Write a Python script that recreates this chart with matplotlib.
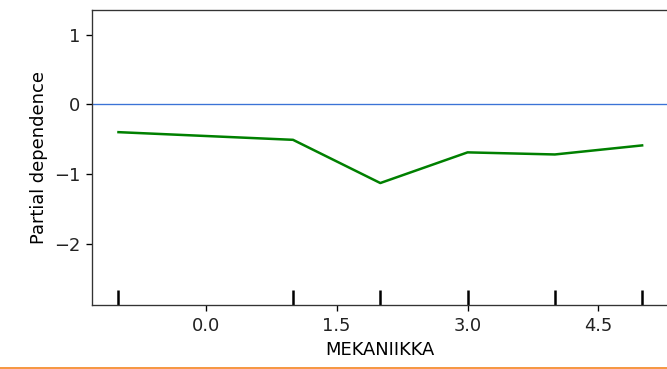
import matplotlib
matplotlib.use("Agg")
import matplotlib.pyplot as plt
from matplotlib.lines import Line2D
import matplotlib.transforms as mtransforms

# grade levels of the feature and the averaged model response
grid_values = [-1, 1, 2, 3, 4, 5]
partial_dependence = [-0.40, -0.51, -1.13, -0.69, -0.72, -0.59]
deciles = [-1, 1, 2, 3, 4, 5]
x_ticks = [0.0, 1.5, 3.0, 4.5]
y_ticks = [1, 0, -1, -2]
feature_name = "MEKANIIKKA"


def main() -> None:
    plt.rcParams["font.size"] = 10.7
    plt.rcParams["text.color"] = "#222222"
    plt.rcParams["xtick.labelcolor"] = "#222222"
    plt.rcParams["ytick.labelcolor"] = "#222222"

    dpi = 120
    fig = plt.figure(figsize=(667 / dpi, 369 / dpi), dpi=dpi)
    ax = fig.add_axes([92.3 / 667, 1 - 305 / 369, 576 / 667, 295.5 / 369])

    ax.plot(grid_values, partial_dependence, color="green", lw=1.5)
    ax.axhline(0, color="#3b73d6", lw=0.8)

    # decile rug along the bottom of the axes
    trans = mtransforms.blended_transform_factory(ax.transData, ax.transAxes)
    ax.vlines(deciles, 0, 0.05, transform=trans, color="k", lw=1.5)

    ax.set_xlim(-1.3, 5.3)
    ax.set_ylim(-2.88, 1.36)
    ax.set_xticks(x_ticks)
    ax.set_xticklabels([f"{v:.1f}" for v in x_ticks])
    ax.set_yticks(y_ticks)
    ax.set_yticklabels(["\u2212" + str(-v) if v < 0 else str(v) for v in y_ticks])
    ax.set_xlabel(feature_name)
    ax.set_ylabel("Partial dependence")
    ax.spines["right"].set_visible(False)
    for side in ("left", "top", "bottom"):
        ax.spines[side].set_color("#333333")

    # notebook cell divider under the output
    fig.add_artist(Line2D([0, 1], [1 - 367.5 / 369] * 2, transform=fig.transFigure,
                          color="#f5841f", lw=1.0))

    fig.savefig("out.png", dpi=dpi)


if __name__ == "__main__":
    main()
